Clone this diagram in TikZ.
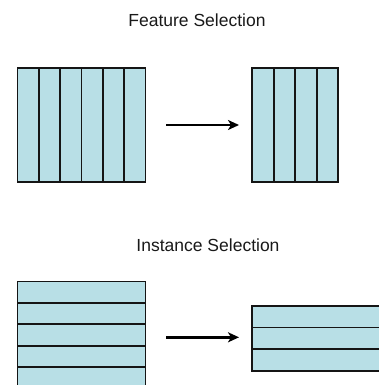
\documentclass[tikz,border=0pt]{standalone}
\usepackage{fontspec}
\setmainfont{Liberation Sans}
\usetikzlibrary{arrows.meta,calc}
\definecolor{cellblue}{HTML}{B8DFE6}
\definecolor{edge}{HTML}{151515}
\tikzset{
  matbox/.style={draw=edge, fill=cellblue, line width=1.9pt, inner sep=0pt, outer sep=0pt},
  divider/.style={draw=edge, line width=1.9pt},
  selarrow/.style={draw=black, line width=2.6pt, -{Stealth[length=11pt,width=10pt,inset=3pt]}},
  caption/.style={font=\fontsize{17.5}{20}\selectfont, text=black!90, inner sep=0pt, anchor=base}
}
\begin{document}
\begin{tikzpicture}[x=1pt,y=-1pt]
\useasboundingbox (0,0) rectangle (379,385);
\clip (0,0) rectangle (379,385);
% Feature selection
\node[caption] (ft) at (197,26.7) {Feature Selection};
\node[matbox, minimum width=128pt, minimum height=114pt, anchor=north west] (fa) at (17.5,67.8) {};
\foreach \i in {1,...,5} {
  \draw[divider] ($(fa.north west)!\i/6!(fa.north east)$) -- ($(fa.south west)!\i/6!(fa.south east)$);
}
\node[matbox, minimum width=86pt, minimum height=114pt, anchor=north west] (fb) at (252.3,67.8) {};
\foreach \i in {1,...,3} {
  \draw[divider] ($(fb.north west)!\i/4!(fb.north east)$) -- ($(fb.south west)!\i/4!(fb.south east)$);
}
\coordinate (fs) at (166,125);
\coordinate (fe) at (239,125);
\draw[selarrow] (fs) -- (fe);
% Instance selection
\node[caption] (it) at (208,251.7) {Instance Selection};
\node[matbox, minimum width=128pt, minimum height=128.4pt, anchor=north west] (ia) at (17.5,281.5) {};
\foreach \i in {1,...,5} {
  \draw[divider] ($(ia.north west)!\i/6!(ia.south west)$) -- ($(ia.north east)!\i/6!(ia.south east)$);
}
\node[matbox, minimum width=140pt, minimum height=65pt, anchor=north west] (ib) at (252.3,305.8) {};
\foreach \i in {1,2} {
  \draw[divider] ($(ib.north west)!\i/3!(ib.south west)$) -- ($(ib.north east)!\i/3!(ib.south east)$);
}
\coordinate (is) at (166,337.3);
\coordinate (ie) at (239,337.3);
\draw[selarrow] (is) -- (ie);
\end{tikzpicture}
\end{document}
